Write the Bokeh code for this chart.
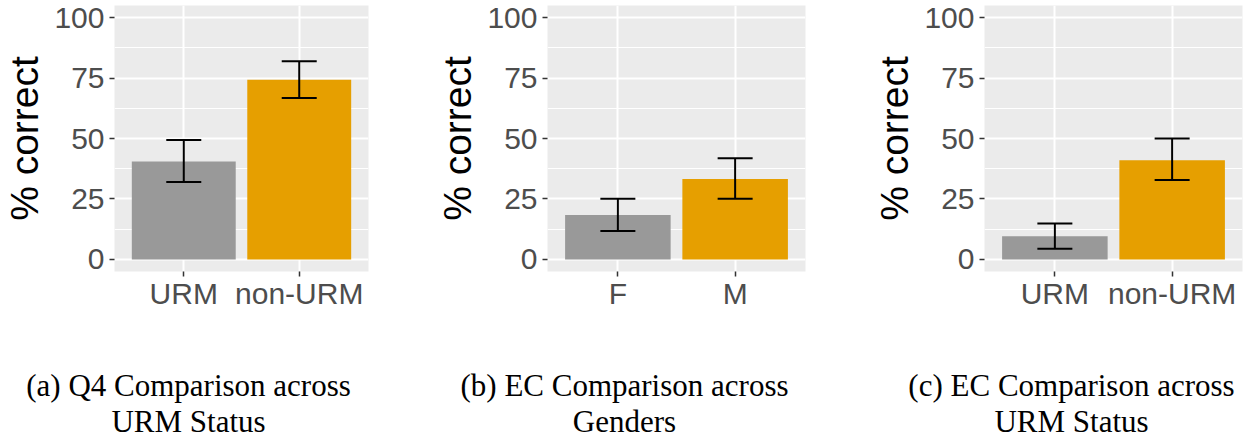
from bokeh.plotting import figure
from bokeh.models import FactorRange, Range1d, FixedTicker, Whisker, TeeHead, ColumnDataSource
from bokeh.layouts import row, column
from bokeh.embed import file_html
from bokeh.resources import INLINE
from bokeh.core.properties import value

# ---------------- data ----------------
a_groups = ["URM", "non-URM"]
a_pct = [40.5, 74.3]
a_lo = [32.0, 66.7]
a_hi = [49.4, 81.9]

b_groups = ["F", "M"]
b_pct = [18.4, 33.3]
b_lo = [11.7, 25.1]
b_hi = [25.1, 41.8]

c_groups = ["URM", "non-URM"]
c_pct = [9.6, 41.0]
c_lo = [4.4, 32.8]
c_hi = [14.8, 50.0]

y_ticks = [0, 25, 50, 75, 100]
y_minor = [12.5, 37.5, 62.5, 87.5]
bar_colors = ["#999999", "#E69F00"]
y_title = "% correct"

captions_line1 = ["(a) Q4 Comparison across", "(b) EC Comparison across", "(c) EC Comparison across"]
captions_line2 = ["URM Status", "Genders", "URM Status"]

# ---------------- layout constants ----------------
PANEL_H = 315
CAP_H = 125
SANS = "Liberation Sans"
SERIF = "Liberation Serif"


def panel(groups, pct, lo, hi, width, left, right):
    src = ColumnDataSource(dict(g=groups, v=pct, lo=lo, hi=hi, c=bar_colors))
    p = figure(width=width, height=PANEL_H,
               x_range=FactorRange(*groups, range_padding=0.1, range_padding_units="absolute"),
               y_range=Range1d(-5, 105),
               output_backend="svg", toolbar_location=None, title_location=None,
               min_border_left=left, min_border_right=right,
               min_border_top=5, min_border_bottom=44)
    p.background_fill_color = "#EBEBEB"
    p.border_fill_color = "white"
    p.outline_line_color = None

    ticker = FixedTicker(ticks=y_ticks, minor_ticks=y_minor)
    p.yaxis.ticker = ticker
    p.ygrid.ticker = ticker
    p.ygrid.grid_line_color = "white"
    p.ygrid.grid_line_width = 2
    p.ygrid.minor_grid_line_color = "white"
    p.ygrid.minor_grid_line_width = 1
    p.xgrid.grid_line_color = "white"
    p.xgrid.grid_line_width = 2

    p.axis.axis_line_color = None
    p.axis.major_tick_line_color = "#333333"
    p.axis.major_tick_line_width = 1.5
    p.axis.major_tick_out = 5
    p.axis.major_tick_in = 0
    p.axis.minor_tick_line_color = None
    p.axis.major_label_text_font = SANS
    p.axis.major_label_text_font_size = "30px"
    p.axis.major_label_text_color = "#4D4D4D"
    p.yaxis.major_label_standoff = 5
    p.xaxis.major_label_standoff = 0

    p.yaxis.axis_label = y_title
    p.yaxis.axis_label_text_font = SANS
    p.yaxis.axis_label_text_font_size = "39px"
    p.yaxis.axis_label_text_font_style = "normal"
    p.yaxis.axis_label_text_color = "black"
    p.yaxis.axis_label_standoff = 5

    p.vbar(x="g", top="v", bottom=0, width=0.9, fill_color="c", line_color=None, source=src)
    w = Whisker(base="g", upper="hi", lower="lo", source=src, level="overlay",
                line_color="black", line_width=2,
                upper_head=TeeHead(size=35, line_color="black", line_width=2),
                lower_head=TeeHead(size=35, line_color="black", line_width=2))
    p.add_layout(w)
    return p


p1 = panel(a_groups, a_pct, a_lo, a_hi, 420, 110, 52)
p2 = panel(b_groups, b_pct, b_lo, b_hi, 420, 127, 35)
p3 = panel(c_groups, c_pct, c_lo, c_hi, 407, 144, 5)

cap = figure(width=1247, height=CAP_H, x_range=Range1d(0, 1247), y_range=Range1d(CAP_H, 0),
             output_backend="svg", toolbar_location=None, title_location=None,
             x_axis_location=None, y_axis_location=None,
             min_border_left=0, min_border_right=0, min_border_top=0, min_border_bottom=0)
cap.grid.visible = False
cap.outline_line_color = None
cap.background_fill_color = "white"
cap_x = [188, 624, 1071]
cap.text(x=cap_x, y=[70] * 3, text=captions_line1, text_align="center", text_baseline="alphabetic",
         text_font=value(SERIF), text_font_size="31px", text_color="black")
cap.text(x=cap_x, y=[106] * 3, text=captions_line2, text_align="center", text_baseline="alphabetic",
         text_font=value(SERIF), text_font_size="31px", text_color="black")

layout = column(row(p1, p2, p3), cap)
open("out.html", "w").write(file_html(layout, INLINE))
